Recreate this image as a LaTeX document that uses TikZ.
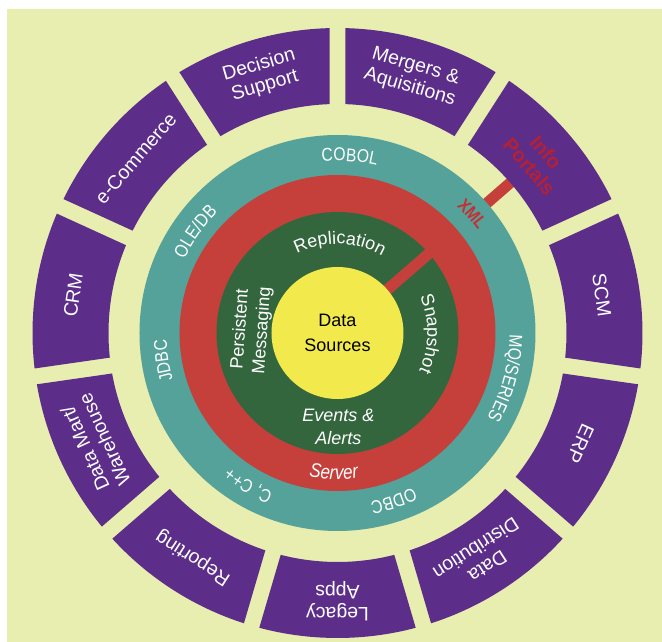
\documentclass[tikz,border=0pt]{standalone}
\usepackage{fontspec}
\setmainfont{Liberation Sans}
\newfontfamily\narrowsans{Liberation Sans}[FakeStretch=0.85]
\usetikzlibrary{decorations.text}

\definecolor{paper}{RGB}{232,237,176}
\definecolor{ringpurple}{RGB}{92,46,138}
\definecolor{ringteal}{RGB}{84,162,154}
\definecolor{ringred}{RGB}{197,64,58}
\definecolor{ringgreen}{RGB}{52,102,62}
\definecolor{coreyellow}{RGB}{242,233,76}
\definecolor{portalred}{RGB}{180,32,52}
\definecolor{xmlred}{RGB}{196,48,52}

\newcommand\ringfont{\narrowsans\fontsize{18.5}{18.5}\selectfont}
\newcommand\xmlfont{\narrowsans\fontsize{18}{18}\selectfont\bfseries}
\newcommand\serverfont{\narrowsans\fontsize{20}{20}\selectfont\itshape}
\newcommand\innerfont{\fontsize{18}{18}\selectfont}

% text set along a circular arc: radius, from angle, to angle, colour, font, text
\newcommand\arctext[6]{%
  \path[decorate, decoration={text along path, text align=center,
        text color=#4, text={|#5|#6}}]
    (#2:#1) arc[start angle=#2, end angle=#3, radius=#1];
}

\begin{document}
\begin{tikzpicture}[x=1pt, y=1pt,
  seglabel/.style={text=white, align=center, inner sep=0pt,
                   font=\fontsize{19.5}{21.5}\selectfont},
  portallabel/.style={text=portalred, align=center, inner sep=0pt,
                   font=\fontsize{20}{22}\selectfont\bfseries},
  greenlabel/.style={text=white, align=center, inner sep=0pt,
                   font=\fontsize{18}{22}\selectfont},
  corelabel/.style={text=black, align=center, inner sep=0pt,
                   font=\fontsize{18}{25}\selectfont},
  link/.style={ringred, line width=11pt}
]
\useasboundingbox (-337.5,-309) rectangle (324.5,333);
\fill[white] (-337.5,-309) rectangle (324.5,333);
\fill[paper] (-330.5,-309) rectangle (324.5,324);

% link from the core out to the portal segment
\draw[link] (41:60) -- (41:232);

% outer ring of eleven segments with parallel-sided gaps
\pgfmathsetmacro{\offin}{asin(8/229)}
\pgfmathsetmacro{\offout}{asin(8/305)}
\foreach \k in {0,...,10} {
  \pgfmathsetmacro{\ga}{90-\k*360/11}
  \pgfmathsetmacro{\gb}{\ga-360/11}
  \fill[ringpurple]
    ({\ga-\offout}:305) arc[start angle={\ga-\offout}, end angle={\gb+\offout}, radius=305]
    -- ({\gb+\offin}:229) arc[start angle={\gb+\offin}, end angle={\ga-\offin}, radius=229]
    -- cycle;
}

% inner rings
\fill[ringteal] (0,0) circle[radius=198];
\fill[ringred] (0,0) circle[radius=158];
\fill[ringgreen] (0,0) circle[radius=121];
\draw[link] (41:60) -- (41:125);
\fill[coreyellow] (0,0) circle[radius=66];

% segment labels
\node[seglabel, rotate=73.64-90] (mergers) at (73.64:267) {Mergers \&\\Aquisitions};
\node[portallabel, rotate=40.91-90] (portals) at (40.91:265) {Info\\Portals};
\node[seglabel, rotate=8.18-90] (scm) at (8.18:267) {SCM};
\node[seglabel, rotate=-24.55-90] (erp) at (-24.55:267) {ERP};
\node[seglabel, rotate=-57.27-90] (distribution) at (-57.27:267) {Data\\Distribution};
\node[seglabel, rotate=-180] (legacy) at (-90:268) {Legacy\\Apps};
\node[seglabel, rotate=-122.73-90] (reporting) at (-122.73:267) {Reporting};
\node[seglabel, rotate=-155.45-90] (warehouse) at (-155.45:267) {Data Mart/\\Warehouse};
\node[seglabel, rotate=171.82-90] (crm) at (171.82:267) {CRM};
\node[seglabel, rotate=139.09-90] (ecommerce) at (139.09:267) {e-Commerce};
\node[seglabel, rotate=106.36-90] (decision) at (106.36:268) {Decision\\Support};

% ring labels
\arctext{172}{126}{46}{white}{\ringfont}{COBOL}
\arctext{170}{184.5}{104.5}{white}{\ringfont}{OLE/DB}
\arctext{171}{229}{149}{white}{\ringfont}{JDBC}
\arctext{172}{279.7}{199.7}{white}{\ringfont}{C, C++}
\arctext{172}{328.5}{248.5}{white}{\ringfont}{ODBC}
\arctext{172}{30}{-60}{white}{\ringfont}{MQ/SERIES}
\arctext{174}{81.5}{1.5}{xmlred}{\xmlfont}{XML}
\arctext{146.5}{228.5}{308.5}{white}{\serverfont}{Server}
\arctext{89}{128.5}{48.5}{white}{\innerfont}{Replication}
\arctext{90}{39.4}{-40.6}{white}{\innerfont}{Snapshot}

\node[greenlabel, rotate=86] (persistent) at (178:86) {Persistent\\Messaging};
\node[greenlabel, font=\fontsize{18}{23}\selectfont\itshape] (events) at (-89.5:94) {Events \&\\Alerts};
\node[corelabel] (core) at (0,0) {Data\\Sources};
\end{tikzpicture}
\end{document}
